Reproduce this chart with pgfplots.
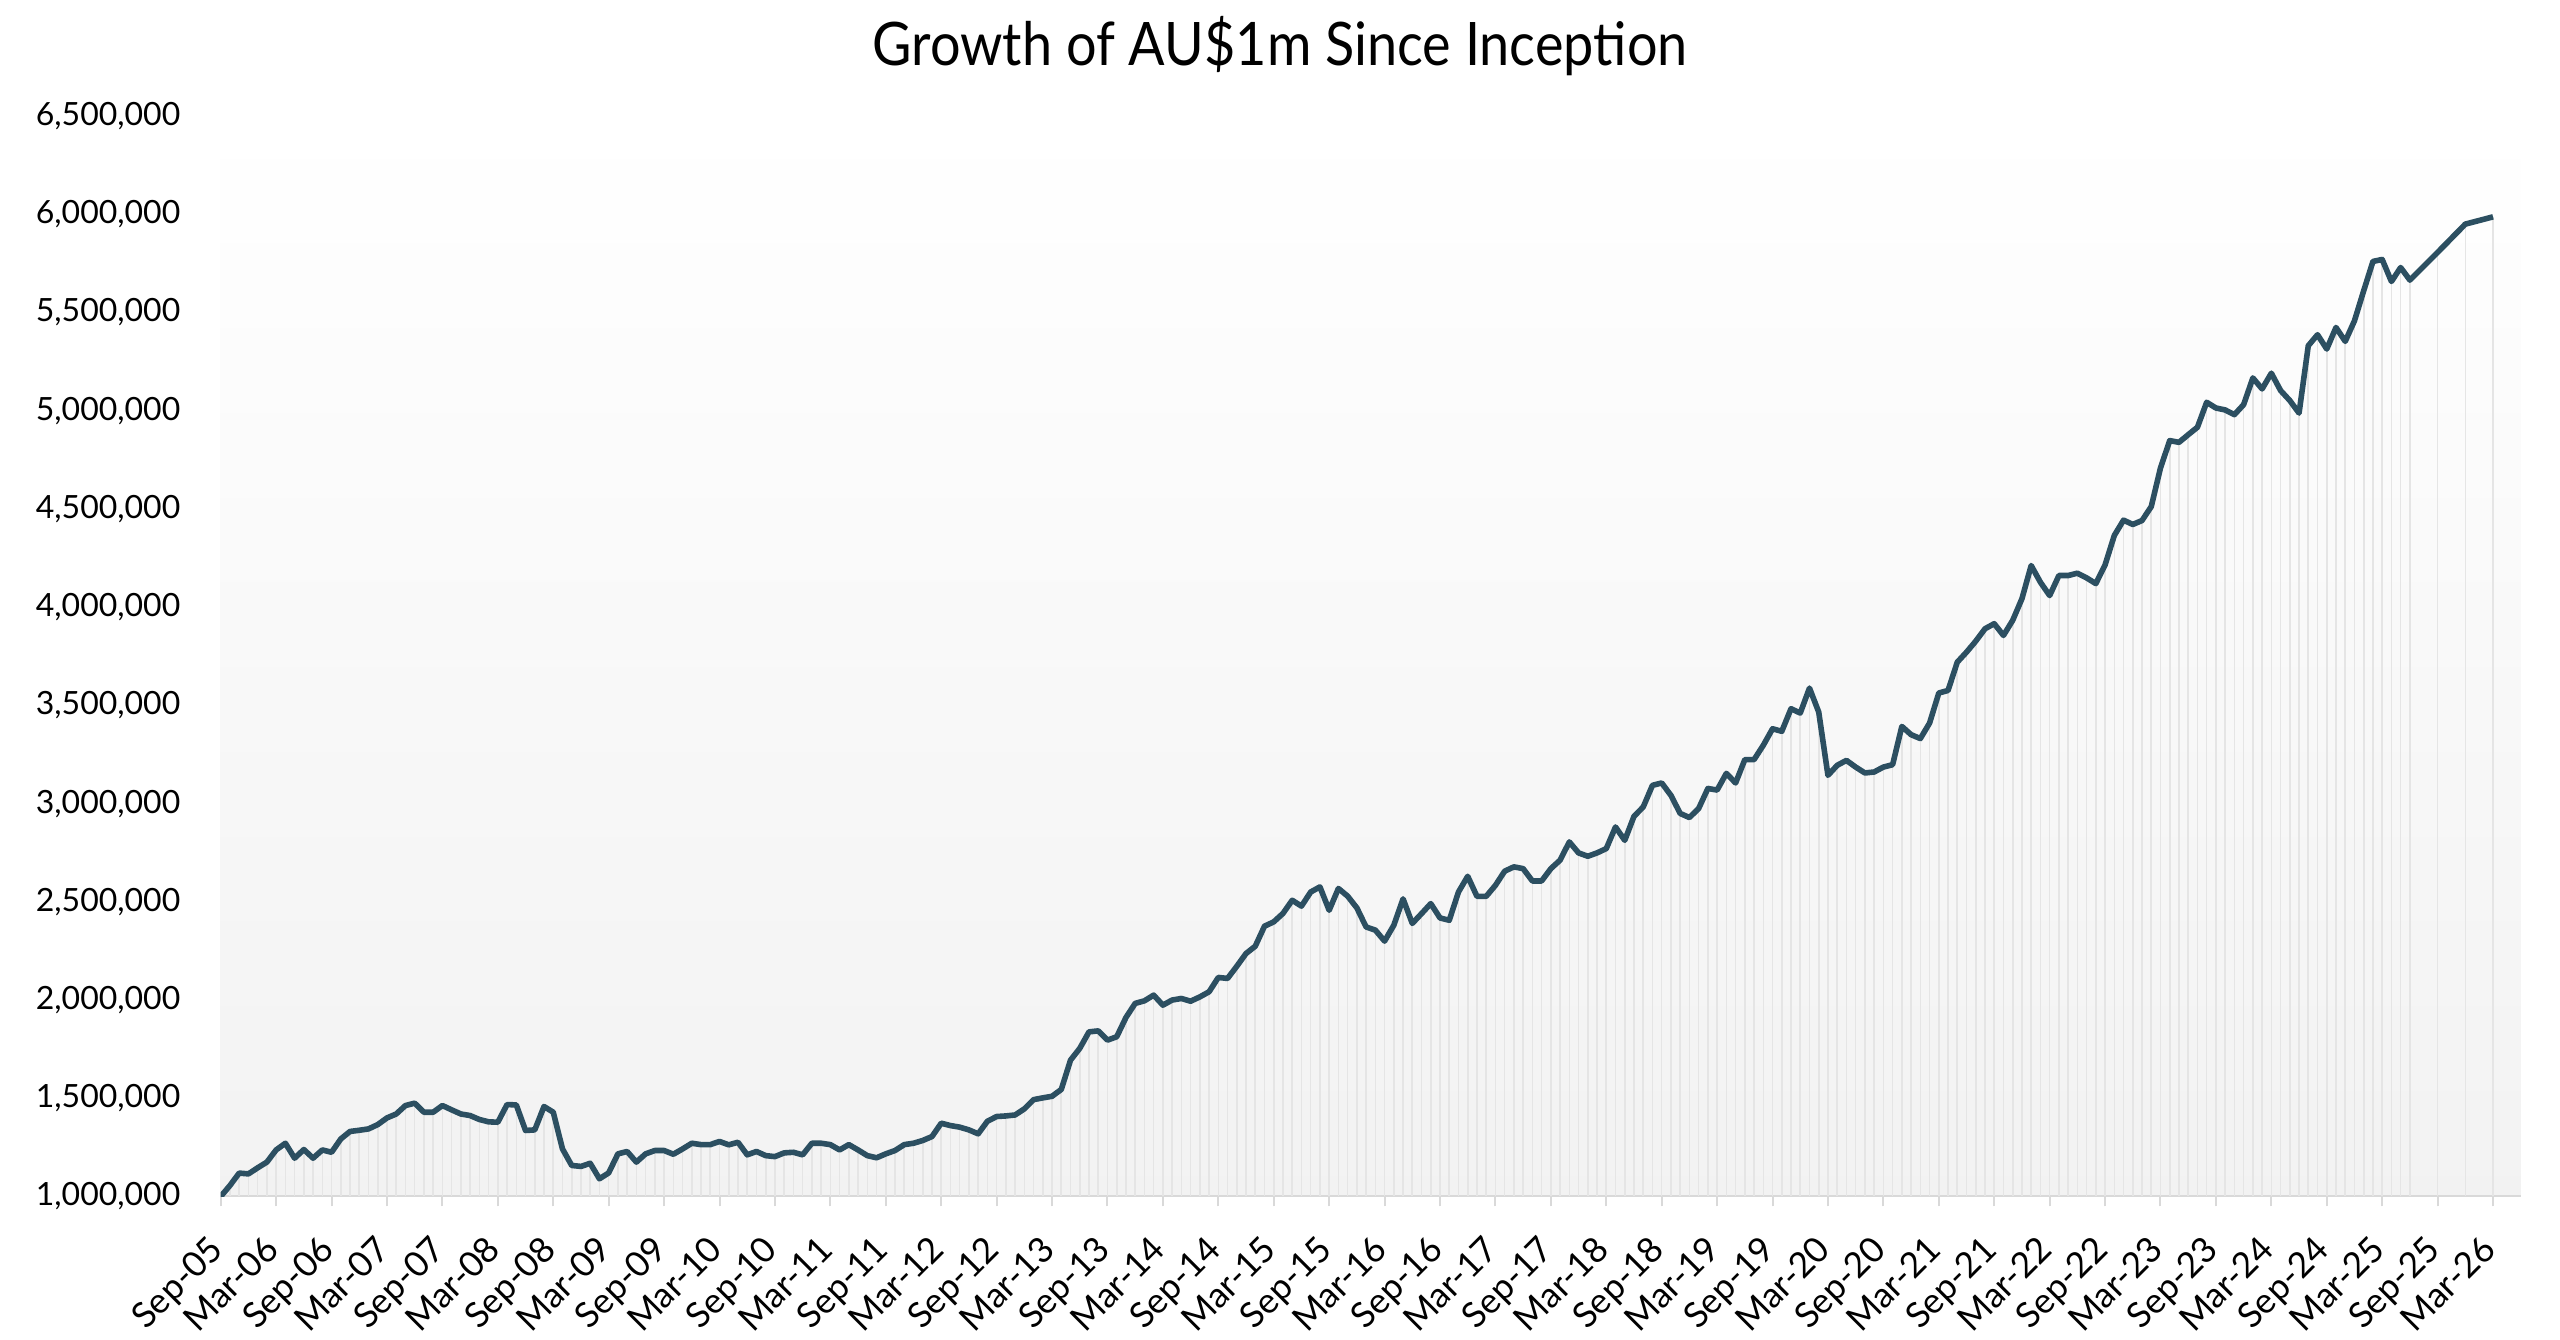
\documentclass[border=0pt]{standalone}
\usepackage{fontspec}
\setmainfont{Lato}
\newfontfamily\titlefont[FakeStretch=0.9]{Lato}
\usepackage{pgfplots}
\pgfplotsset{compat=1.18}
\usepackage{pgfplotstable}
\definecolor{linecol}{RGB}{44,79,97}
\pgfplotstableread{
k v
0 1000000
1 1056000
2 1119000
3 1115000
4 1146000
5 1175000
6 1237000
7 1271000
8 1195000
9 1239000
10 1195000
11 1237000
12 1225000
13 1293000
14 1331000
15 1337000
16 1344000
17 1366000
18 1400000
19 1420000
20 1463000
21 1475000
22 1429000
23 1429000
24 1463000
25 1441000
26 1420000
27 1412000
28 1392000
29 1380000
30 1378000
31 1468000
32 1466000
33 1336000
34 1339000
35 1458000
36 1429000
37 1242000
38 1158000
39 1153000
40 1169000
41 1090000
42 1120000
43 1217000
44 1229000
45 1175000
46 1217000
47 1234000
48 1234000
49 1215000
50 1242000
51 1271000
52 1264000
53 1264000
54 1280000
55 1263000
56 1276000
57 1212000
58 1229000
59 1208000
60 1203000
61 1222000
62 1225000
63 1212000
64 1271000
65 1271000
66 1264000
67 1237000
68 1264000
69 1237000
70 1208000
71 1197000
72 1217000
73 1234000
74 1264000
75 1271000
76 1285000
77 1305000
78 1373000
79 1361000
80 1353000
81 1339000
82 1319000
83 1383000
84 1407000
85 1410000
86 1415000
87 1446000
88 1493000
89 1502000
90 1510000
91 1545000
92 1694000
93 1754000
94 1838000
95 1843000
96 1796000
97 1813000
98 1911000
99 1983000
100 1996000
101 2025000
102 1974000
103 2000000
104 2008000
105 1994000
106 2016000
107 2042000
108 2115000
109 2110000
110 2172000
111 2237000
112 2274000
113 2376000
114 2398000
115 2441000
116 2508000
117 2478000
118 2550000
119 2576000
120 2457000
121 2568000
122 2529000
123 2469000
124 2372000
125 2356000
126 2300000
127 2381000
128 2515000
129 2390000
130 2440000
131 2491000
132 2418000
133 2406000
134 2550000
135 2630000
136 2528000
137 2528000
138 2584000
139 2656000
140 2678000
141 2669000
142 2606000
143 2606000
144 2669000
145 2712000
146 2805000
147 2749000
148 2732000
149 2749000
150 2771000
151 2881000
152 2813000
153 2935000
154 2983000
155 3093000
156 3105000
157 3042000
158 2950000
159 2929000
160 2975000
161 3077000
162 3069000
163 3154000
164 3105000
165 3224000
166 3224000
167 3297000
168 3381000
169 3368000
170 3483000
171 3461000
172 3588000
173 3466000
174 3144000
175 3195000
176 3220000
177 3186000
178 3156000
179 3161000
180 3186000
181 3198000
182 3393000
183 3351000
184 3331000
185 3410000
186 3563000
187 3576000
188 3720000
189 3771000
190 3827000
191 3890000
192 3916000
193 3856000
194 3933000
195 4043000
196 4212000
197 4127000
198 4059000
199 4161000
200 4161000
201 4173000
202 4149000
203 4120000
204 4215000
205 4365000
206 4443000
207 4421000
208 4441000
209 4512000
210 4709000
211 4848000
212 4839000
213 4878000
214 4916000
215 5043000
216 5014000
217 5004000
218 4980000
219 5031000
220 5167000
221 5111000
222 5191000
223 5103000
224 5052000
225 4988000
226 5331000
227 5387000
228 5314000
229 5424000
230 5353000
231 5458000
232 5611000
233 5760000
234 5770000
235 5658000
236 5729000
237 5665000
240 5806000
243 5950000
246 5987000
}\growth

\begin{document}
\begin{tikzpicture}[x=1pt,y=1pt]
\useasboundingbox (0,0) rectangle (640,334.75);
\node[anchor=base, inner sep=0pt, font=\titlefont\fontsize{15}{18}\selectfont] at (320,318.3) {Growth of AU\$1m Since Inception};
\begin{axis}[
  at={(55.18pt,35.63pt)}, anchor=south west,
  scale only axis, width=575pt, height=270.1pt,
  xmin=0, xmax=249, ymin=1000000, ymax=6500000,
  axis background/.style={top color=white, bottom color=black!5},
  axis x line=bottom, axis y line=left,
  axis line style={-},
  x axis line style={draw=black!15, line width=0.5pt},
  y axis line style={draw=none},
  ytick={1000000,1500000,2000000,2500000,3000000,3500000,4000000,4500000,5000000,5500000,6000000,6500000},
  ytick style={draw=none},
  scaled y ticks=false,
  /pgf/number format/fixed, /pgf/number format/precision=0,
  /pgf/number format/1000 sep={,},
  /pgf/number format/assume math mode=true,
  yticklabel style={anchor=east, inner sep=0pt, xshift=-7.4pt, font=\fontsize{8}{10}\selectfont},
  xtick={0,6,...,246},
  xticklabels={Sep-05,Mar-06,Sep-06,Mar-07,Sep-07,Mar-08,Sep-08,Mar-09,Sep-09,Mar-10,Sep-10,Mar-11,Sep-11,Mar-12,Sep-12,Mar-13,Sep-13,Mar-14,Sep-14,Mar-15,Sep-15,Mar-16,Sep-16,Mar-17,Sep-17,Mar-18,Sep-18,Mar-19,Sep-19,Mar-20,Sep-20,Mar-21,Sep-21,Mar-22,Sep-22,Mar-23,Sep-23,Mar-24,Sep-24,Mar-25,Sep-25,Mar-26},
  xtick style={draw=black!15, line width=0.5pt},
  tick align=outside, major tick length=2.5pt,
  xticklabel style={xshift=1.25pt, yshift=-11.2pt, rotate=45, anchor=base east, inner sep=0pt, font=\fontsize{8.8}{10}\selectfont},
  clip=true,
]
\addplot[ycomb, draw=black!10, line width=0.4pt, mark=none] table[x=k,y=v]{\growth};
\addplot[linecol, line width=1.4pt, line join=round, mark=none] table[x=k,y=v]{\growth};
\end{axis}
\end{tikzpicture}
\end{document}
